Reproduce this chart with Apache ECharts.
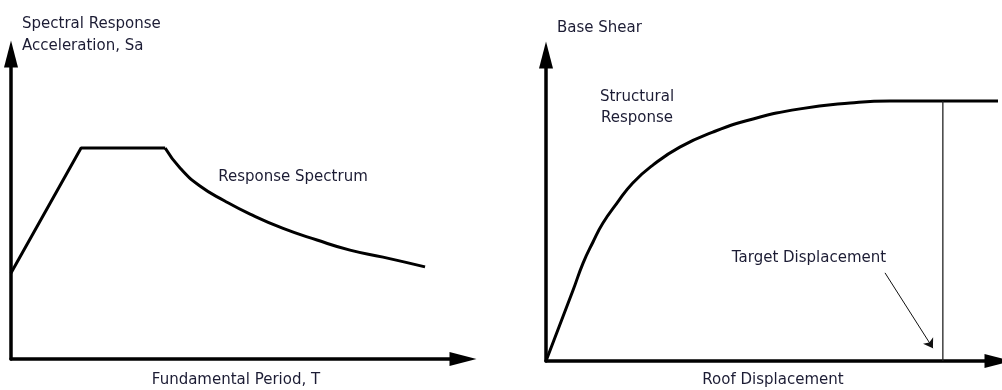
<!DOCTYPE html>
<html>
<head>
<meta charset="utf-8">
<script src="https://cdn.jsdelivr.net/npm/echarts@6/dist/echarts.min.js"></script>
<style>
  html, body { margin: 0; padding: 0; background: #fff; }
  #chart { width: 1002px; height: 390px; }
</style>
</head>
<body>
<div id="chart"></div>
<script>
  // left panel: design response spectrum (period vs Sa), arbitrary units 0-100
  const spectrumRamp = [[0, 28.2], [15.5, 69.2], [34.1, 69.2]];
  const spectrumDecay = [
    [34.1, 69.2], [37.4, 62.6], [41.8, 56.7], [47.3, 51.8], [52.9, 47.5],
    [60.2, 42.8], [67.7, 39.0], [75.0, 35.7], [82.3, 33.4], [91.6, 30.2]
  ];

  // right panel: pushover curve (roof displacement vs base shear)
  const pushoverCurve = [
    [0, 0], [6.0, 23.2], [8.2, 32.0], [10.4, 38.9], [12.6, 45.1], [15.7, 51.6],
    [19.2, 58.2], [23.7, 64.1], [29.6, 69.9], [36.9, 74.8], [45.8, 79.1],
    [56.2, 82.4], [67.3, 84.3], [76.1, 85.0], [100, 85.0]
  ];
  const targetLine = [[87.8, 0], [87.8, 85.0]];
  const targetPointer = [[75.0, 28.8], [85.6, 4.2]];

  const font = '"Comic Sans MS", "DejaVu Sans", sans-serif';
  const textColor = '#1c1c34';

  function valueAxis(idx) {
    return {
      type: 'value',
      gridIndex: idx,
      min: 0,
      max: 100,
      axisLine: {
        show: true,
        onZero: false,
        symbol: ['none', 'triangle'],
        symbolSize: [14, 27],
        lineStyle: { color: '#000', width: 3.5 }
      },
      axisTick: { show: false },
      axisLabel: { show: false },
      splitLine: { show: false }
    };
  }

  function label(text, x, y, align) {
    return {
      type: 'text',
      x: x,
      y: y,
      style: {
        text: text,
        fill: textColor,
        font: '15px ' + font,
        textAlign: align || 'left',
        textVerticalAlign: 'middle'
      }
    };
  }

  const chart = echarts.init(document.getElementById('chart'));
  chart.setOption({
    animation: false,
    backgroundColor: '#fff',
    grid: [
      { left: 11, top: 54, right: 539, bottom: 31 },
      { left: 546, top: 55, right: 4, bottom: 29 }
    ],
    xAxis: [valueAxis(0), valueAxis(1)],
    yAxis: [valueAxis(0), valueAxis(1)],
    series: [
      {
        type: 'line', xAxisIndex: 0, yAxisIndex: 0,
        data: spectrumRamp, showSymbol: false,
        lineStyle: { color: '#000', width: 3 }
      },
      {
        type: 'line', xAxisIndex: 0, yAxisIndex: 0,
        data: spectrumDecay, showSymbol: false, smooth: 0.5,
        lineStyle: { color: '#000', width: 3 }
      },
      {
        type: 'line', xAxisIndex: 1, yAxisIndex: 1,
        data: pushoverCurve, showSymbol: false, smooth: 0.5,
        lineStyle: { color: '#000', width: 3 }
      },
      {
        type: 'line', xAxisIndex: 1, yAxisIndex: 1,
        data: targetLine, showSymbol: false,
        lineStyle: { color: '#222', width: 1.3 }
      },
      {
        type: 'lines', coordinateSystem: 'cartesian2d', xAxisIndex: 1, yAxisIndex: 1,
        symbol: ['none', 'arrow'], symbolSize: 9,
        lineStyle: { color: '#111', width: 1, opacity: 1 },
        data: [{ coords: targetPointer }]
      }
    ],
    graphic: [
      label('Spectral Response', 22, 24),
      label('Acceleration, Sa', 22, 46),
      label('Response Spectrum', 293, 177, 'center'),
      label('Fundamental Period, T', 236, 380, 'center'),
      label('Base Shear', 557, 28),
      label('Structural', 637, 97, 'center'),
      label('Response', 637, 118, 'center'),
      label('Target Displacement', 809, 258, 'center'),
      label('Roof Displacement', 773, 380, 'center')
    ]
  });
</script>
</body>
</html>
